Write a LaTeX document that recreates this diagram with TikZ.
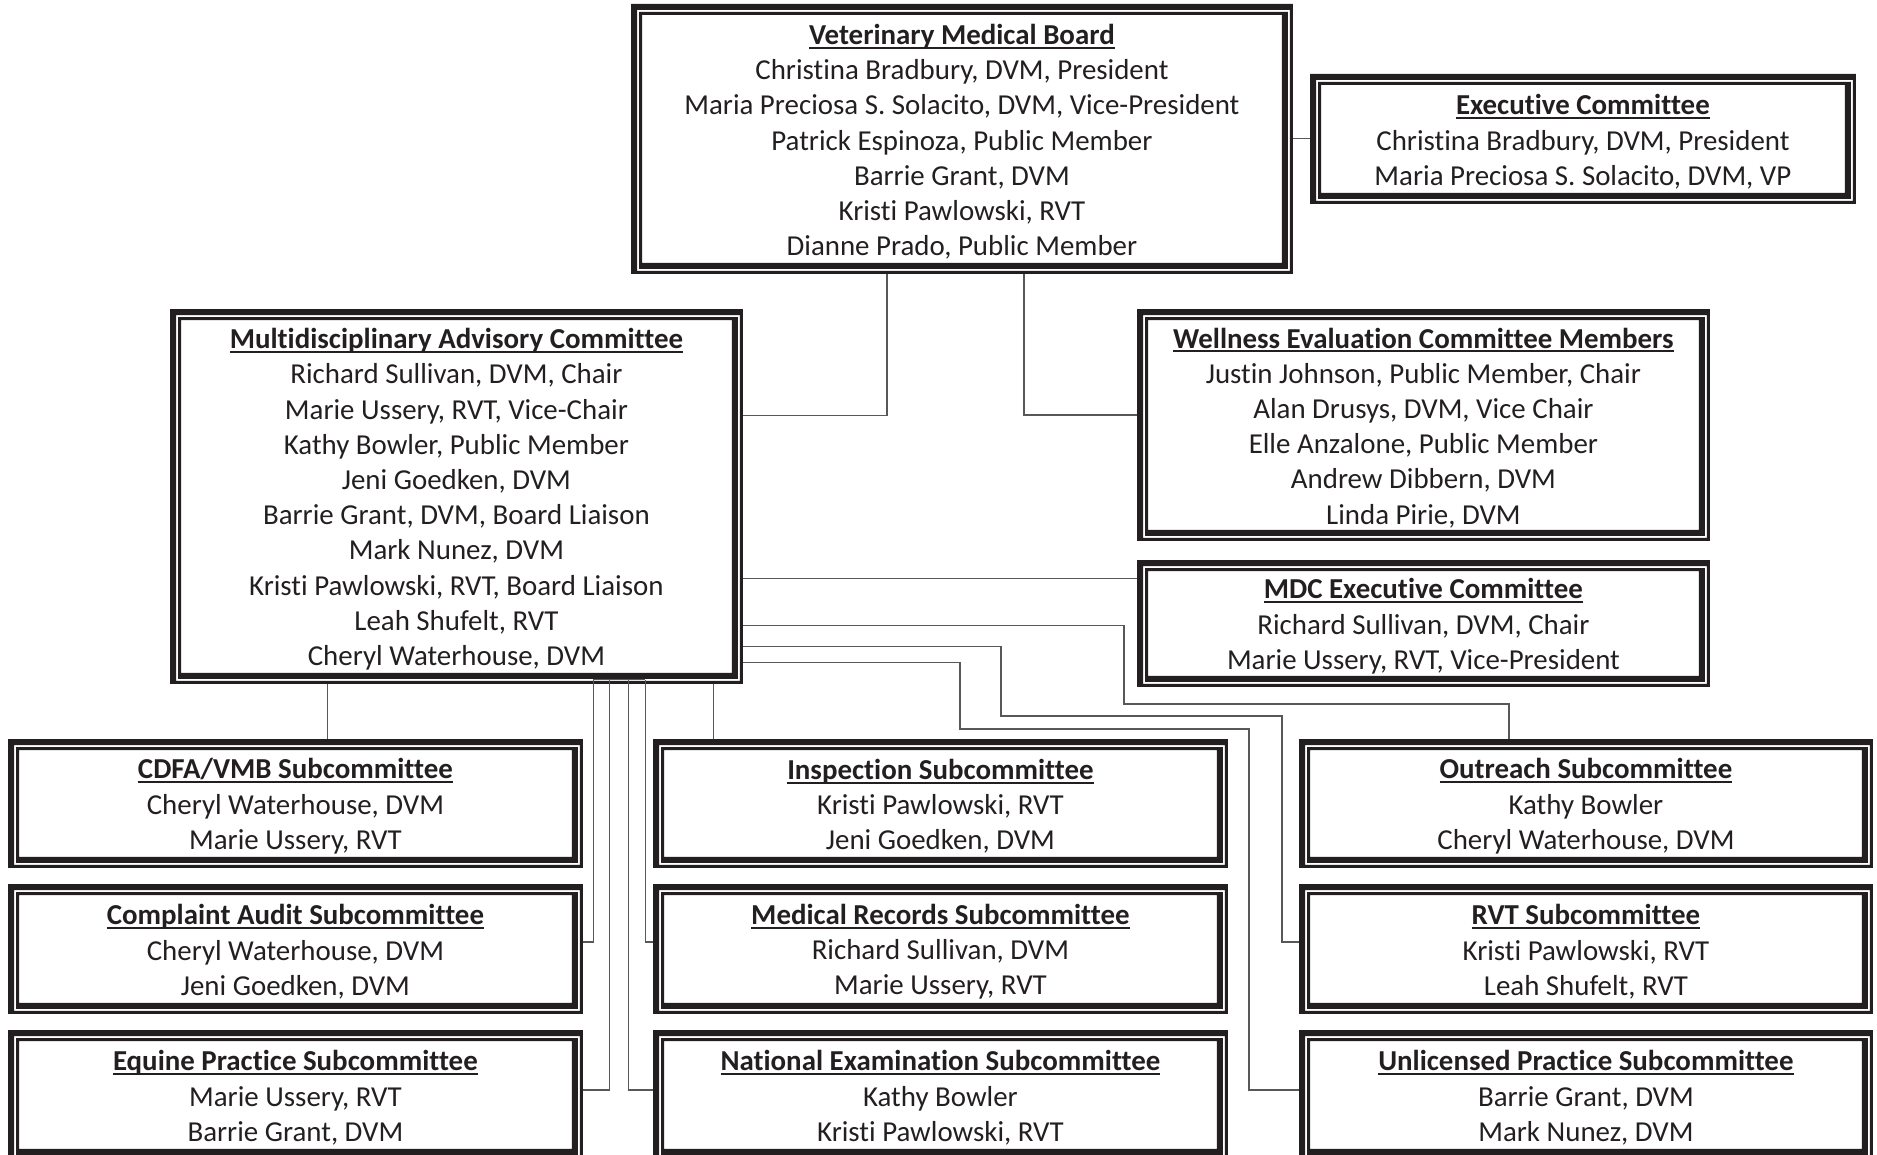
\documentclass[tikz,border=0pt]{standalone}
\usepackage{fontspec}
\setmainfont{Carlito}[Ligatures=NoCommon]
\usetikzlibrary{math}
\definecolor{ink}{HTML}{231F20}
\newsavebox{\headbox}
\newcommand{\heading}[1]{\sbox{\headbox}{\bfseries #1}\rule{0pt}{13pt}\rlap{\rule[-2.2pt]{\wd\headbox}{1.1pt}}\usebox{\headbox}}
\tikzset{
  panel/.style 2 args={rectangle, anchor=north west, inner sep=0pt, align=center,
    minimum width=#1*0.5pt, minimum height=#2*0.5pt, text=ink,
    font=\fontsize{14.45pt}{17.6pt}\selectfont},
  link/.style={draw=ink!75, line width=0.6pt}
}
\begin{document}
\begin{tikzpicture}[x=0.5pt, y=-0.5pt]
      \tikzmath{\rowa = 739; \rowb = 884; \rowc = 1030; \cola = 8; \colb = 653; \colc = 1299;}
      \useasboundingbox (0,0) rectangle (1877,1155);
      \clip (0,0) rectangle (1877,1155);
      \node[panel={661}{269}] (vmb) at (631,4) {\heading{Veterinary Medical Board}\\ Christina Bradbury, DVM, President\\ Maria Preciosa S. Solacito, DVM, Vice-President\\ Patrick Espinoza, Public Member\\ Barrie Grant, DVM\\ Kristi Pawlowski, RVT\\ Dianne Prado, Public Member};
      \node[panel={545}{129}] (exec) at (1310,74) {\heading{Executive Committee}\\ Christina Bradbury, DVM, President\\ Maria Preciosa S. Solacito, DVM, VP};
      \node[panel={572}{374}] (mac) at (170,309) {\heading{Multidisciplinary Advisory Committee}\\ Richard Sullivan, DVM, Chair\\ Marie Ussery, RVT, Vice-Chair\\ Kathy Bowler, Public Member\\ Jeni Goedken, DVM\\ Barrie Grant, DVM, Board Liaison\\ Mark Nunez, DVM\\ Kristi Pawlowski, RVT, Board Liaison\\ Leah Shufelt, RVT\\ Cheryl Waterhouse, DVM};
      \node[panel={572}{231}] (well) at (1137,309) {\heading{Wellness Evaluation Committee Members}\\ Justin Johnson, Public Member, Chair\\ Alan Drusys, DVM, Vice Chair\\ Elle Anzalone, Public Member\\ Andrew Dibbern, DVM\\ Linda Pirie, DVM};
      \node[panel={572}{126}] (mdc) at (1137,560) {\heading{MDC Executive Committee}\\ Richard Sullivan, DVM, Chair\\ Marie Ussery, RVT, Vice-President};
      \node[panel={574}{128}] (cdfa) at (\cola,\rowa) {\heading{CDFA/VMB Subcommittee}\\ Cheryl Waterhouse, DVM\\ Marie Ussery, RVT};
      \node[panel={574}{128}] (insp) at (\colb,\rowa) {\heading{Inspection Subcommittee}\\ Kristi Pawlowski, RVT\\ Jeni Goedken, DVM};
      \node[panel={573}{128}] (outr) at (\colc,\rowa) {\heading{Outreach Subcommittee}\\ Kathy Bowler\\ Cheryl Waterhouse, DVM};
      \node[panel={574}{129}] (comp) at (\cola,\rowb) {\heading{Complaint Audit Subcommittee}\\ Cheryl Waterhouse, DVM\\ Jeni Goedken, DVM};
      \node[panel={574}{129}] (med) at (\colb,\rowb) {\heading{Medical Records Subcommittee}\\ Richard Sullivan, DVM\\ Marie Ussery, RVT};
      \node[panel={573}{129}] (rvt) at (\colc,\rowb) {\heading{RVT Subcommittee}\\ Kristi Pawlowski, RVT\\ Leah Shufelt, RVT};
      \node[panel={574}{129}] (equi) at (\cola,\rowc) {\heading{Equine Practice Subcommittee}\\ Marie Ussery, RVT\\ Barrie Grant, DVM};
      \node[panel={574}{129}] (natl) at (\colb,\rowc) {\heading{National Examination Subcommittee}\\ Kathy Bowler\\ Kristi Pawlowski, RVT};
      \node[panel={573}{129}] (unl) at (\colc,\rowc) {\heading{Unlicensed Practice Subcommittee}\\ Barrie Grant, DVM\\ Mark Nunez, DVM};
      \foreach \n in {vmb,exec,mac,well,mdc,cdfa,insp,outr,comp,med,rvt,equi,natl,unl}{
        \fill[ink, even odd rule] (\n.north west) rectangle (\n.south east)
          ([shift={(6,6)}]\n.north west) rectangle ([shift={(-3,-3)}]\n.south east)
          ([shift={(8,8)}]\n.north west) rectangle ([shift={(-5,-5)}]\n.south east)
          ([shift={(11,11)}]\n.north west) rectangle ([shift={(-11,-11)}]\n.south east);
      }
      \draw[link] (vmb.east |- exec.west) -- (exec.west);
      \draw[link] ([shift={(-75,0)}]vmb.south) |- ([shift={(0,-81)}]mac.east);
      \draw[link] ([shift={(62,0)}]vmb.south) |- ([shift={(0,-10)}]well.west);
      \draw[link] ([shift={(0,82)}]mac.east) -- ([shift={(0,-45)}]mdc.west);
      \draw[link] ([shift={(0,129)}]mac.east) -| (1124,704) -| ([shift={(-77,0)}]outr.north);
      \draw[link] ([shift={(0,150)}]mac.east) -| (1001,716) -| ([shift={(-17,-7)}]rvt.west) -- ([shift={(0,-7)}]rvt.west);
      \draw[link] ([shift={(0,166)}]mac.east) -| (960,729) -| ([shift={(-50,-5)}]unl.west) -- ([shift={(0,-5)}]unl.west);
      \draw[link] ([shift={(-129,0)}]mac.south) -- ([shift={(32,0)}]cdfa.north);
      \draw[link] ([shift={(257,0)}]mac.south) -- ([shift={(-227,0)}]insp.north);
      \draw[link] ([shift={(137,-4)}]mac.south) -- ([shift={(189,-4)}]mac.south);
      \draw[link] ([shift={(137,-4)}]mac.south) |- ([shift={(0,-7)}]comp.east);
      \draw[link] ([shift={(153,-4)}]mac.south) |- ([shift={(0,-5)}]equi.east);
      \draw[link] ([shift={(172,-4)}]mac.south) |- ([shift={(0,-5)}]natl.west);
      \draw[link] ([shift={(189,-4)}]mac.south) |- ([shift={(0,-7)}]med.west);
\end{tikzpicture}
\end{document}
